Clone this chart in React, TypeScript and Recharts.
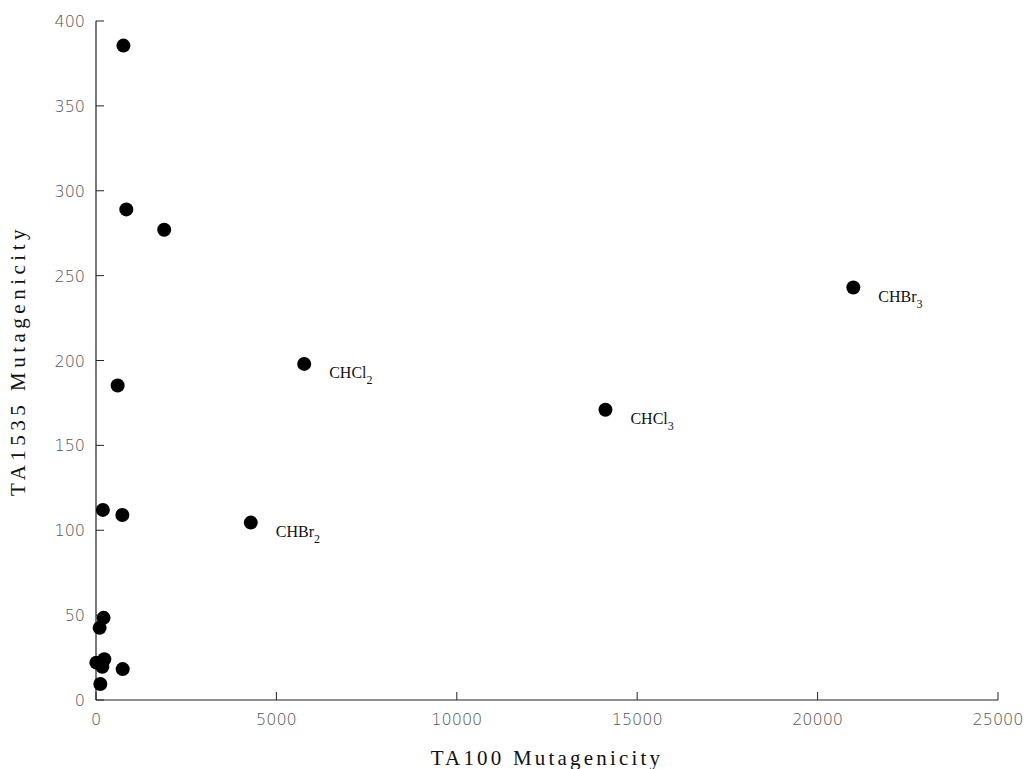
import React from "react";
import { ScatterChart, Scatter, XAxis, YAxis, Label } from "recharts";

const ta100Values = [760, 840, 1890, 600, 5770, 14120, 20990, 4290, 190, 730, 210, 100, 10, 230, 175, 740, 120];
const ta1535Values = [385.5, 289, 277, 185.3, 198, 171, 243, 104.5, 112, 109, 48.4, 42.5, 22, 24, 19.6, 18.2, 9.4];
const compoundBase = ["", "", "", "", "CHCl", "CHCl", "CHBr", "CHBr", "", "", "", "", "", "", "", "", ""];
const compoundSub = ["", "", "", "", "2", "3", "3", "2", "", "", "", "", "", "", "", "", ""];
const xTicks = [0, 5000, 10000, 15000, 20000, 25000];
const yTicks = [0, 50, 100, 150, 200, 250, 300, 350, 400];
const xTitle = "TA100 Mutagenicity";
const yTitle = "TA1535 Mutagenicity";

const data = ta100Values.map((x, i) => ({
  x,
  y: ta1535Values[i],
  base: compoundBase[i],
  sub: compoundSub[i],
}));

const tickFont = "'DejaVu Sans', sans-serif";
const serif = "'Liberation Serif', 'DejaVu Serif', serif";

const XTick = (props: any) => {
  const { x, y, payload } = props;
  return (
    <g>
      <line x1={x} y1={y} x2={x} y2={y - 8} stroke="#222" strokeWidth={1} />
      <text x={x} y={y + 25} textAnchor="middle" fontFamily={tickFont} fontWeight={200} fontSize={16} fill="#555">
        {payload.value}
      </text>
    </g>
  );
};

const YTick = (props: any) => {
  const { x, y, payload } = props;
  return (
    <g>
      <line x1={x} y1={y} x2={x + 8} y2={y} stroke="#222" strokeWidth={1} />
      <text x={x - 11} y={y + 6} textAnchor="end" fontFamily={tickFont} fontWeight={200} fontSize={16} fill="#555">
        {payload.value}
      </text>
    </g>
  );
};

const Dot = (props: any) => {
  const { cx, cy, payload } = props;
  return (
    <g>
      <circle cx={cx} cy={cy} r={7} fill="#000" />
      {payload.base ? (
        <text x={cx + 25} y={cy + 14} fontFamily={serif} fontSize={16} fill="#111">
          {payload.base}
          <tspan dy={6} fontSize={12}>{payload.sub}</tspan>
        </text>
      ) : null}
    </g>
  );
};

const XTitle = (props: any) => {
  const vb = props.viewBox;
  return (
    <text x={vb.x + vb.width / 2} y={765} textAnchor="middle" fontFamily={serif} fontSize={21} letterSpacing={3.2} fill="#111">
      {xTitle}
    </text>
  );
};

const YTitle = (props: any) => {
  const vb = props.viewBox;
  const cy = vb.y + vb.height / 2;
  return (
    <text x={25} y={cy} transform={`rotate(-90, 25, ${cy})`} textAnchor="middle" fontFamily={serif} fontSize={21} letterSpacing={4.5} fill="#111">
      {yTitle}
    </text>
  );
};

export default function App() {
  return (
    <div style={{ position: "absolute", left: 0, top: 0, background: "#fff" }}>
      <ScatterChart width={1027} height={769} margin={{ top: 21, right: 29, bottom: 0, left: 0 }}>
        <XAxis
          type="number"
          dataKey="x"
          domain={[0, 25000]}
          ticks={xTicks}
          height={69}
          tickSize={0}
          tickMargin={0}
          tick={<XTick />}
          axisLine={{ stroke: "#222", strokeWidth: 1.2 }}
          interval={0}
        >
          <Label content={<XTitle />} />
        </XAxis>
        <YAxis
          type="number"
          dataKey="y"
          domain={[0, 400]}
          ticks={yTicks}
          width={96}
          tickSize={0}
          tickMargin={0}
          tick={<YTick />}
          axisLine={{ stroke: "#222", strokeWidth: 1.2 }}
          interval={0}
        >
          <Label content={<YTitle />} />
        </YAxis>
        <Scatter data={data} shape={<Dot />} isAnimationActive={false} />
      </ScatterChart>
    </div>
  );
}
